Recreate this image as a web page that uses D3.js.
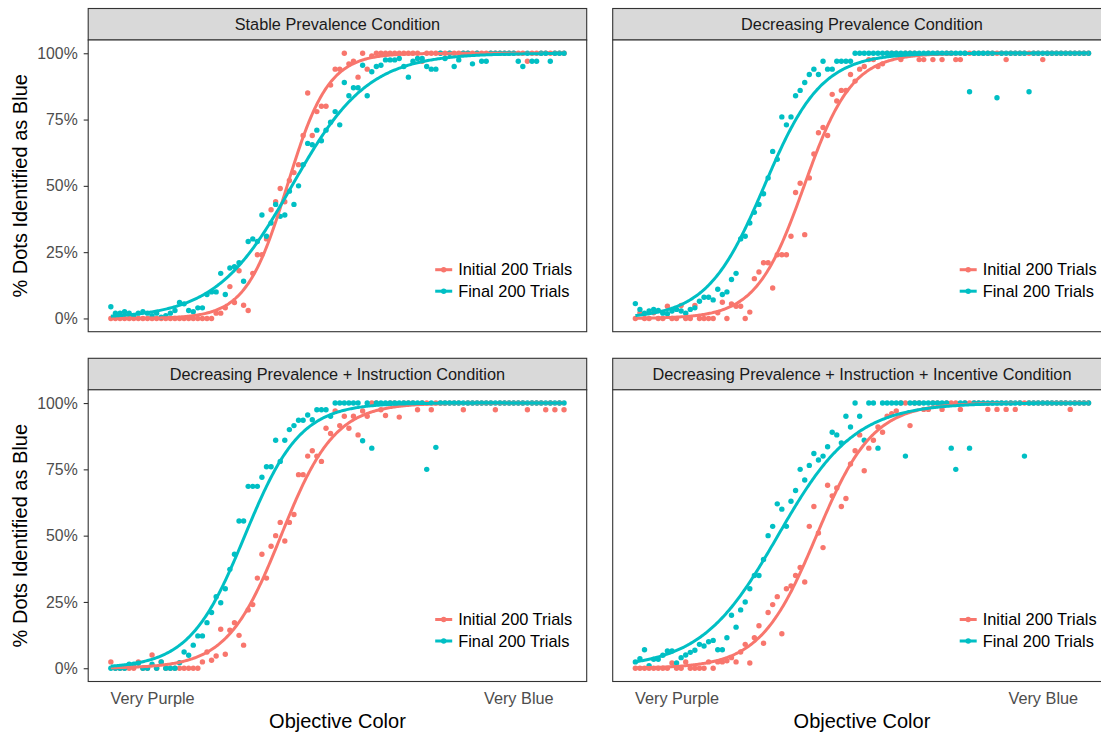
<!DOCTYPE html>
<html>
<head>
<meta charset="utf-8">
<script src="https://cdn.jsdelivr.net/npm/d3@7"></script>
<style>
  body { margin: 0; background: #ffffff; }
  svg { display: block; }
  text { font-family: "Liberation Sans", Arial, Helvetica, sans-serif; }
</style>
</head>
<body>
<svg id="chart" width="1101" height="734"></svg>
<script>
// Objective colour steps (1 = very purple ... 100 = very blue)
const colorSteps = d3.range(1, 101);

// Percent of dots called "blue" at each colour step
const stableInitial = [
  0,0,0,0,0,0,0,0,0,0,
  0,0,0,0,0,0,0,0,0,0,
  0,0,0,2,2,4,12,6,18,5,
  3,17,24,24,30,41,44,49,44,52,
  55,58,69,85,69,78,80,80,88,94,
  94,100,96,97,91,100,94,99,100,100,
  100,100,100,100,100,100,100,100,97,100,
  100,100,100,100,100,100,100,100,100,100,
  100,100,100,100,100,100,100,100,100,100,
  100,97,100,100,100,100,100,100,100,100
];
const stableFinal = [
  4.4,2,2,2.5,2,1,2,2.5,2,1,
  2,0.5,1,2,3,6,5.5,3,2.5,4,
  4,9,10,10,17,9,19,19.5,21,14,
  29,30,29,39,31,36,43,38.5,39,48,
  43,50,58,66,65.5,71,67,71,74,78,
  73,89,84,87,87,95.5,84,93,95,95.5,
  97.5,97.5,97.5,98,95,91,97,98,98,95,
  94,94,100,98,100,95,97.5,100,100,96,
  100,97,97,100,100,100,100,100,100,97,
  95,100,97,97,100,100,97,100,100,100
];
const decreasingInitial = [
  0,2.1,0,0,2.1,0,0,4.6,0,0,
  4.9,0,0,4.9,0,0,0,0,2.1,6.1,
  0,5.5,4.6,4.6,0,2.4,15,17.5,21,21,
  11.5,24,24,24,31,47.5,51,31.6,53,62,
  70,72,69,84.5,82,86,86,92,89.5,94,
  95,97.6,97.6,95,96,100,100,100,97.6,100,
  100,100,97.6,97.6,100,97.6,100,97.6,100,100,
  97.6,97.6,100,100,100,100,100,100,100,100,
  100,97.6,100,100,100,100,100,100,100,97.6,
  100,100,100,100,100,100,100,100,100,100
];
const decreasingFinal = [
  5.6,3.4,2,2.8,3.4,3,2,1.8,2.8,3.4,
  2.8,2,3.4,4,6.5,8,8,7,11,9,
  10,14.7,17,30,31,36,40,43,47,53,
  63,60,76,73,76,84,86,89,92,94,
  92,97,94,94,97,97,97,97,100,100,
  100,100,100,100,100,100,100,100,100,100,
  100,100,100,100,100,100,100,100,100,100,
  100,100,100,85.5,100,100,100,100,100,83.2,
  100,100,100,100,100,100,85.5,100,100,100,
  100,100,100,100,100,100,100,100,100,100
];
const instructionInitial = [
  2.4,0,0,0,0,0,2.4,0,0,5,
  0,2.4,0,0,0,0,0,0,0,0,
  2.4,6.1,3,4.6,14.7,5.3,14.3,17.2,12.4,8.7,
  22,24,34,43,34,46,50,55,48,55,
  58,73,73,80,82,80,78,90.5,88.5,97,
  91.5,95,90.5,95,88,97,95,100,100,97.5,
  95.3,100,100,94.7,100,100,100,97.5,100,100,
  97.5,100,100,100,100,100,100,97.5,100,100,
  100,100,100,100,97.5,100,100,100,100,100,
  100,97.5,100,100,100,97.5,100,97.5,100,97.5
];
const instructionFinal = [
  0,0,0,0,1.5,1.5,1.9,0,0,1.5,
  0,2.4,0,0,0,2.1,6.1,4.9,8.7,12.2,
  12.2,17.2,21,27,24.7,30,37.3,43,55.5,55.5,
  68.6,68.6,68.6,72,76,76,86,78,86,90,
  91.5,93.5,93.5,95.5,93.7,97.5,97.5,97.5,95,100,
  100,100,100,100,100,85.8,100,83,100,100,
  100,100,100,100,100,100,100,100,100,75,
  100,83.3,100,100,100,100,100,100,100,100,
  100,100,100,100,100,100,100,100,100,100,
  100,100,100,100,100,100,100,100,100,100
];
const incentiveInitial = [
  0,0,0,0,0,0,0,0,2,0,
  0,2.4,0,0,0,0,2.4,0,2.4,2.4,
  2.8,4,2.4,6.1,9,2,11.5,16,9.4,21,
  24,27,13,30,31,35,38,32.5,53.5,61,
  51,45.5,69,65,68,61,64,77,82,88,
  74.5,83,86,91,89,95,96,97,100,100,
  91.5,100,100,97.6,97.6,100,100,97.6,100,100,
  100,97.6,100,100,100,100,100,97.6,100,97.6,
  100,97.6,100,97.6,100,100,100,100,100,100,
  100,100,100,100,100,97.6,100,100,100,100
];
const incentiveFinal = [
  2.4,3.6,7,1,3.4,3.4,4.9,6.5,6.5,2,
  4,5,6,6.8,9,8.4,10,10.5,7,7,
  11.5,20,15.5,22,25,30,35,35,41,50,
  53.5,62,60,53.5,63,67,75,71,76.5,81,
  78.5,80,83.5,89,88,85,95,91,100,95,
  86,100,100,83,100,100,100,100,100,80,
  100,100,100,100,100,100,100,100,100,83,
  75,100,100,83,100,100,100,100,100,100,
  100,100,100,100,100,80,100,100,100,100,
  100,100,100,100,100,100,100,100,100,100
];

const panelTitles = [
  "Stable Prevalence Condition",
  "Decreasing Prevalence Condition",
  "Decreasing Prevalence + Instruction Condition",
  "Decreasing Prevalence + Instruction + Incentive Condition"
];
const seriesNames = ["Initial 200 Trials", "Final 200 Trials"];
const seriesColors = ["#F8766D", "#00BFC4"];
const panelSeries = [
  [stableInitial, stableFinal],
  [decreasingInitial, decreasingFinal],
  [instructionInitial, instructionFinal],
  [incentiveInitial, incentiveFinal]
];
const yTickValues = [0, 25, 50, 75, 100];
const yTickLabels = ["0%", "25%", "50%", "75%", "100%"];
const xTickValues = [10, 90];
const xTickLabels = ["Very Purple", "Very Blue"];
const xTitle = "Objective Color";
const yTitle = "% Dots Identified as Blue";

// Logistic regression (Newton-Raphson) of proportion on colour step
function fitLogistic(xv, pct) {
  const xm = d3.mean(xv);
  const pv = pct.map(v => v / 100);
  let a = 0, b = 0.1;
  for (let it = 0; it < 200; it++) {
    let g0 = 0, g1 = 0, h00 = 0, h01 = 0, h11 = 0;
    xv.forEach((x, i) => {
      const t = x - xm;
      const p = 1 / (1 + Math.exp(-(a + b * t)));
      const w = p * (1 - p);
      g0 += pv[i] - p; g1 += (pv[i] - p) * t;
      h00 += w; h01 += w * t; h11 += w * t * t;
    });
    const det = h00 * h11 - h01 * h01;
    let da = (h11 * g0 - h01 * g1) / det;
    let db = (h00 * g1 - h01 * g0) / det;
    da = Math.max(-3, Math.min(3, da));
    db = Math.max(-0.3, Math.min(0.3, db));
    a += da; b += db;
    if (Math.abs(da) + Math.abs(db) < 1e-12) break;
  }
  return x => 100 / (1 + Math.exp(-(a + b * (x - xm))));
}

const svg = d3.select("#chart");
svg.append("rect").attr("width", 1101).attr("height", 734).attr("fill", "#ffffff");

// facet geometry
const panelW = 498.5, stripH = 31.5, panelH = 291.7;
const colLeft = [88.2, 612.7];
const rowTop = [8.5, 358.3];
const border = "#333333";

panelTitles.forEach((title, k) => {
  const row = Math.floor(k / 2), col = k % 2;
  const x0 = colLeft[col], sTop = rowTop[row];
  const pTop = sTop + stripH, pBot = pTop + panelH;

  const x = d3.scaleLinear().domain([1 - 99 * 0.05, 100 + 99 * 0.05]).range([x0, x0 + panelW]);
  const y = d3.scaleLinear().domain([-5, 105]).range([pBot, pTop]);

  const g = svg.append("g");

  // strip
  g.append("rect")
    .attr("x", x0).attr("y", sTop).attr("width", panelW).attr("height", stripH)
    .attr("fill", "#D9D9D9").attr("stroke", border).attr("stroke-width", 1.1);
  g.append("text")
    .attr("x", x0 + panelW / 2).attr("y", sTop + stripH / 2).attr("dy", "0.35em")
    .attr("text-anchor", "middle").attr("font-size", 16.3).attr("fill", "#1A1A1A")
    .text(title);

  // panel background
  g.append("rect")
    .attr("x", x0).attr("y", pTop).attr("width", panelW).attr("height", panelH)
    .attr("fill", "#ffffff");

  const series = panelSeries[k];

  // points
  series.forEach((vals, s) => {
    g.append("g").selectAll("circle")
      .data(vals.map((v, i) => ({ x: colorSteps[i], v })))
      .join("circle")
      .attr("cx", d => x(d.x)).attr("cy", d => y(d.v)).attr("r", 2.7)
      .attr("fill", seriesColors[s]);
  });

  // fitted curves
  const fine = d3.range(1, 100.01, 0.25);
  series.forEach((vals, s) => {
    const f = fitLogistic(colorSteps, vals);
    g.append("path")
      .attr("d", d3.line().x(d => x(d)).y(d => y(f(d)))(fine))
      .attr("fill", "none").attr("stroke", seriesColors[s]).attr("stroke-width", 3)
      .attr("stroke-linecap", "butt");
  });

  // panel border
  g.append("rect")
    .attr("x", x0).attr("y", pTop).attr("width", panelW).attr("height", panelH)
    .attr("fill", "none").attr("stroke", border).attr("stroke-width", 1.1);

  // legend
  const lg = g.append("g").attr("transform", `translate(${x0 + 347},${pBot - 62})`);
  seriesNames.forEach((name, s) => {
    const r = lg.append("g").attr("transform", `translate(0,${s * 21.5})`);
    r.append("line").attr("x1", 0).attr("x2", 17).attr("y1", 0).attr("y2", 0)
      .attr("stroke", seriesColors[s]).attr("stroke-width", 3);
    r.append("circle").attr("cx", 8.5).attr("cy", 0).attr("r", 2.7).attr("fill", seriesColors[s]);
    r.append("text").attr("x", 23).attr("y", 0).attr("dy", "0.35em")
      .attr("font-size", 16.4).attr("fill", "#000000").text(name);
  });

  // y axis on the left column
  if (col === 0) {
    const ya = g.append("g").attr("transform", `translate(${x0},0)`)
      .call(d3.axisLeft(y).tickValues(yTickValues)
        .tickFormat((d, i) => yTickLabels[i]).tickSize(4.5).tickPadding(6));
    ya.select(".domain").remove();
    ya.selectAll(".tick line").attr("stroke", border).attr("stroke-width", 1.1);
    ya.selectAll(".tick text").attr("font-size", 15.8).attr("fill", "#4D4D4D")
      .attr("font-family", null);

    svg.append("text")
      .attr("transform", `translate(26.5,${(pTop + pBot) / 2}) rotate(-90)`)
      .attr("text-anchor", "middle").attr("font-size", 20).attr("fill", "#000000")
      .text(yTitle);
  }

  // x axis on the bottom row
  if (row === 1) {
    const xa = g.append("g").attr("transform", `translate(0,${pBot})`)
      .call(d3.axisBottom(x).tickValues(xTickValues)
        .tickFormat((d, i) => xTickLabels[i]).tickSize(0).tickPadding(11));
    xa.select(".domain").remove();
    xa.selectAll(".tick text").attr("font-size", 16.3).attr("fill", "#4D4D4D")
      .attr("font-family", null);

    svg.append("text")
      .attr("x", x0 + panelW / 2).attr("y", 728)
      .attr("text-anchor", "middle").attr("font-size", 20).attr("fill", "#000000")
      .text(xTitle);
  }
});
</script>
</body>
</html>
